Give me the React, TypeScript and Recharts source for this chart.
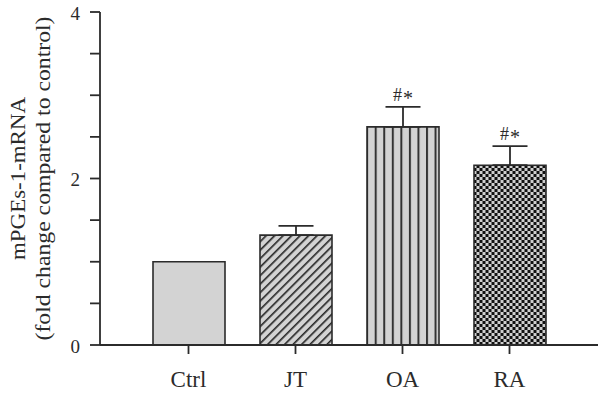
import React from "react";
import { ComposedChart, Bar, XAxis, YAxis, ErrorBar, Cell, LabelList } from "recharts";

const categories = ["Ctrl", "JT", "OA", "RA"];
const values = [1.0, 1.32, 2.62, 2.16];
const errors = [null, 0.11, 0.24, 0.23];
const signif = ["", "", "#*", "#*"];
const yTicks = [0, 0.5, 1, 1.5, 2, 2.5, 3, 3.5, 4];
const yLabelLines = ["mPGEs-1-mRNA", "(fold change compared to control)"];

const data = categories.map((c, i) => ({
  name: c,
  value: values[i],
  err: errors[i] == null ? null : [0, errors[i]],
  errVal: errors[i] ?? 0,
  sig: signif[i],
}));
const fills = ["#d3d3d3", "url(#hatch)", "url(#stripes)", "url(#checker)"];

const FONT = "'Liberation Serif', 'Times New Roman', serif";
const INK = "#2b2b2b";

const YTick = (props: any) => {
  const { x, y, payload } = props;
  const v = payload.value;
  if (v % 2 !== 0) return null;
  return (
    <text x={x} y={y + 1} textAnchor="end" dominantBaseline="central" fontFamily={FONT} fontSize={19} fill={INK}>
      {v}
    </text>
  );
};

const XTick = (props: any) => {
  const { x, y, payload } = props;
  return (
    <text x={x} y={y + 31} textAnchor="middle" fontFamily={FONT} fontSize={23} fill={INK}>
      {payload.value}
    </text>
  );
};

const YLabel = (props: any) => {
  const vb = props.viewBox || {};
  const cy = (vb.y ?? 12) + (vb.height ?? 333) / 2;
  return (
    <g>
      <text transform={`translate(18, ${cy}) rotate(-90)`} textAnchor="middle" dominantBaseline="central" fontFamily={FONT} fontSize={21} fill={INK} textLength={163} lengthAdjust="spacingAndGlyphs">
        {yLabelLines[0]}
      </text>
      <text transform={`translate(43, ${cy}) rotate(-90)`} textAnchor="middle" dominantBaseline="central" fontFamily={FONT} fontSize={21} fill={INK} textLength={324} lengthAdjust="spacingAndGlyphs">
        {yLabelLines[1]}
      </text>
    </g>
  );
};

const SigLabel = (props: any) => {
  const vb = props.viewBox && props.viewBox.width !== undefined ? props.viewBox : props;
  const { x, y, width, height } = vb;
  const index = props.index;
  const d = data[index];
  if (!d || !d.sig) return null;
  const pxPerUnit = height / d.value;
  const top = y - d.errVal * pxPerUnit;
  const chars = d.sig.split("");
  return (
    <text x={x + width / 2} y={top - 6} textAnchor="middle" fontFamily={FONT} fontSize={18} fill={INK}>
      <tspan>{chars[0]}</tspan>
      <tspan dx={1} dy={4} fontSize={20}>{chars[1]}</tspan>
    </text>
  );
};

export default function App() {
  return (
    <div style={{ position: "absolute", left: 0, top: 0, width: 600, height: 393, background: "#fff" }}>
      <svg width={0} height={0} style={{ position: "absolute" }}>
        <defs>
          <pattern id="hatch" patternUnits="userSpaceOnUse" width={6} height={6} patternTransform="rotate(45)">
            <rect x={0} y={0} width={6} height={6} fill="#d3d3d3" />
            <rect x={0} y={0} width={1.6} height={6} fill="#222" />
          </pattern>
          <pattern id="stripes" patternUnits="userSpaceOnUse" x={374.7} y={0} width={8.55} height={10}>
            <rect x={0} y={0} width={8.55} height={10} fill="#d3d3d3" />
            <rect x={0} y={0} width={2} height={10} fill="#333" />
          </pattern>
          <pattern id="checker" patternUnits="userSpaceOnUse" x={473.5} y={0} width={6} height={6}>
            <rect x={0} y={0} width={6} height={6} fill="#cfcfcf" />
            <rect x={0} y={0} width={3} height={3} fill="#111" />
            <rect x={3} y={3} width={3} height={3} fill="#111" />
          </pattern>
        </defs>
      </svg>
      <ComposedChart width={600} height={393} data={data} margin={{ top: 12, right: 2, bottom: 0, left: 0 }}>
        <XAxis
          dataKey="name"
          height={48}
          padding={{ left: 35, right: 35 }}
          axisLine={{ stroke: INK, strokeWidth: 1.8 }}
          tickLine={{ stroke: INK, strokeWidth: 1.8 }}
          tickSize={9}
          tick={<XTick />}
        />
        <XAxis xAxisId="top" dataKey="name" orientation="top" height={0} axisLine={{ stroke: INK, strokeWidth: 1.8 }} tick={false} tickLine={false} />
        <YAxis
          domain={[0, 4]}
          ticks={yTicks}
          width={100}
          interval={0}
          axisLine={{ stroke: INK, strokeWidth: 1.8 }}
          tickLine={{ stroke: INK, strokeWidth: 1.8 }}
          tickSize={10}
          tickMargin={10}
          tick={<YTick />}
          label={<YLabel />}
        />
        <YAxis yAxisId="right" orientation="right" width={0} domain={[0, 4]} axisLine={{ stroke: INK, strokeWidth: 1.8 }} tick={false} tickLine={false} />
        <Bar dataKey="value" barSize={72} stroke={INK} strokeWidth={1.6} isAnimationActive={false}>
          {data.map((d, i) => (
            <Cell key={d.name} fill={fills[i]} />
          ))}
          <ErrorBar dataKey="err" width={17.5} stroke={INK} strokeWidth={1.8} isAnimationActive={false} />
          <LabelList dataKey="sig" content={<SigLabel />} />
        </Bar>
      </ComposedChart>
    </div>
  );
}
